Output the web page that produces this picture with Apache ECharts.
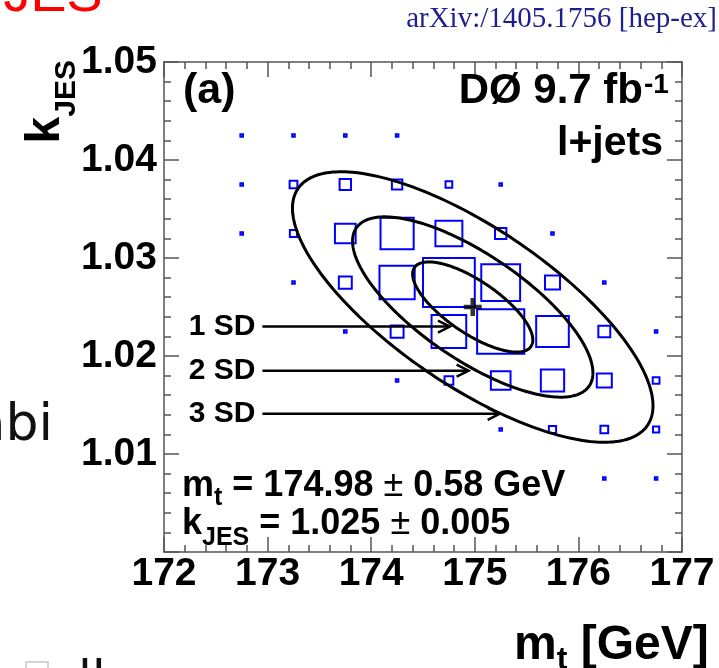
<!DOCTYPE html>
<html>
<head>
<meta charset="utf-8">
<script src="https://cdn.jsdelivr.net/npm/echarts@6/dist/echarts.min.js"></script>
<style>
html, body { margin: 0; padding: 0; background: #fff; }
#chart { width: 719px; height: 668px; }
</style>
</head>
<body>
<div id="chart"></div>
<script>
// Bin centres of the two-dimensional likelihood histogram
const massBins = [172.75, 173.25, 173.75, 174.25, 174.75, 175.25, 175.75, 176.25, 176.75];
const kBins = [1.0425, 1.0375, 1.0325, 1.0275, 1.0225, 1.0175, 1.0125, 1.0075];
const binWidth = [0.5, 0.005];
// Relative bin contents: one row per kJES bin (top to bottom), one column per mass bin
const binContent = [
  [5, 5, 5, 5, 0, 0, 0, 0, 0],
  [5, 15, 22, 20, 13, 5, 0, 0, 0],
  [5, 14, 40, 64, 52, 22, 5, 0, 0],
  [0, 5, 25, 68, 100, 75, 29, 5, 0],
  [0, 0, 5, 25, 67, 91, 63, 23, 5],
  [0, 0, 0, 5, 17, 38, 45, 29, 13],
  [0, 0, 0, 0, 0, 5, 14, 15, 12],
  [0, 0, 0, 0, 0, 0, 0, 5, 5]
];

// Fit result
const fitMass = [174.98];
const fitMassErr = [0.58];
const fitK = [1.025];
const fitKErr = [0.005];
const contourSigmaK = [0.0046];   // unrounded kJES width used for the contours
const fitCorrelation = [-0.73];
const contourLevels = [1, 2, 3];
const contourLabels = ['1 SD', '2 SD', '3 SD'];
// Arrows pointing at the contours
const arrowStartMass = [172.95, 172.95, 172.95];
const arrowEndMass = [174.76, 174.94, 175.24];
const arrowK = [1.0230, 1.0185, 1.0141];

// Axes
const xTickLabels = [172, 173, 174, 175, 176, 177];
const yTickLabels = [1.01, 1.02, 1.03, 1.04, 1.05];
const yRange = [1.00, 1.05];

// ---------------------------------------------------------------
const boxData = [];
kBins.forEach((k, r) => massBins.forEach((m, c) => {
  if (binContent[r][c] > 0) boxData.push([m, k, binContent[r][c]]);
}));
const maxContent = Math.max(...binContent.flat());

const FONT = '"Liberation Sans", Arial, sans-serif';
const measureCtx = document.createElement('canvas').getContext('2d');
function measure(str, font) { measureCtx.font = font; return measureCtx.measureText(str).width; }
function fontOf(size, weight, family) { return `${weight || 'bold'} ${size}px ${family || FONT}`; }

// text element placed by its alphabetic baseline
function txt(str, x, baseline, size, o = {}) {
  return {
    type: 'text', x: x, y: baseline - 0.3465 * size, z: 20,
    style: {
      text: str, font: fontOf(size, o.weight, o.family), fill: o.color || '#000',
      align: o.align || 'left', verticalAlign: 'middle'
    }
  };
}
// a run of text pieces with sub/superscripts, laid out left to right
function run(x, baseline, parts) {
  const out = [];
  let cx = x;
  parts.forEach(([s, size, weight, shift]) => {
    out.push(txt(s, cx, baseline + (shift || 0), size, { weight: weight }));
    cx += measure(s, fontOf(size, weight));
  });
  return out;
}

const tickStyle = { color: '#555', width: 1.5 };
const frameLine = { show: true, lineStyle: { color: '#555', width: 1.5 } };
const labelStyle = { fontFamily: FONT, fontWeight: 'bold', fontSize: 39, color: '#000' };

function xAxisDef(pos, showLabels) {
  return {
    type: 'value', position: pos, min: xTickLabels[0], max: xTickLabels[xTickLabels.length - 1], interval: 1,
    axisLine: frameLine,
    axisTick: { show: true, inside: true, length: 15, lineStyle: tickStyle },
    minorTick: { show: true, splitNumber: 5, length: 7, lineStyle: tickStyle },
    splitLine: { show: false }, minorSplitLine: { show: false },
    axisLabel: Object.assign({
      show: showLabels, margin: 3, showMinLabel: true, showMaxLabel: true, hideOverlap: false,
      formatter: v => xTickLabels.some(t => Math.abs(t - v) < 1e-6) ? String(Math.round(v)) : ''
    }, labelStyle)
  };
}
function yAxisDef(pos, showLabels) {
  return {
    type: 'value', position: pos, min: yRange[0], max: yRange[1], interval: 0.01,
    axisLine: frameLine,
    axisTick: { show: true, inside: true, length: 15, lineStyle: tickStyle },
    minorTick: { show: true, splitNumber: 5, length: 7, lineStyle: tickStyle },
    splitLine: { show: false }, minorSplitLine: { show: false },
    axisLabel: Object.assign({
      show: showLabels, margin: 7, showMinLabel: true, showMaxLabel: true, hideOverlap: false,
      formatter: v => yTickLabels.some(t => Math.abs(t - v) < 1e-6) ? v.toFixed(2) : ''
    }, labelStyle)
  };
}

// Annotations
const graphics = [];
// slide fragments around the figure
graphics.push(txt('JES', 102.5, 15, 54, { weight: 'normal', color: '#ff0000', align: 'right' }));
graphics.push(txt('abi', 53, 445, 52, { weight: 'normal', family: '"DejaVu Sans"', color: '#111', align: 'right' }));
graphics.push({ type: 'rect', shape: { x: 26, y: 662, width: 22, height: 22 }, style: { fill: 'none', stroke: '#c8c8c8', lineWidth: 1.5 } });
graphics.push(txt('lk', 78, 700, 50, { weight: 'normal', family: '"DejaVu Sans"', color: '#111' }));
graphics.push(txt('arXiv:/1405.1756 [hep-ex]', 717, 29, 29, { weight: 'normal', family: '"Liberation Serif", serif', color: '#1e1e8c', align: 'right' }));

// panel labels
graphics.push(txt('(a)', 183, 106, 43));
graphics.push(txt('DØ 9.7 fb', 643, 106, 42, { align: 'right' }));
graphics.push(txt('-1', 644, 95, 28));
graphics.push(txt('l+jets', 663, 158, 41, { align: 'right' }));

// fit result
graphics.push(...run(182, 499, [
  ['m', 36, 'bold', 0], ['t', 25, 'bold', 8],
  [' = ' + fitMass[0].toFixed(2) + ' ', 36, 'bold', 0], ['±', 36, 'normal', 0],
  [' ' + fitMassErr[0].toFixed(2) + ' GeV', 36, 'bold', 0]
]));
graphics.push(...run(182, 537, [
  ['k', 36, 'bold', 0], ['JES', 25, 'bold', 10],
  [' = ' + fitK[0].toFixed(3) + ' ', 36, 'bold', 0], ['±', 36, 'normal', 0],
  [' ' + fitKErr[0].toFixed(3), 36, 'bold', 0]
]));

// axis titles
graphics.push(...run(514, 662, [['m', 48, 'bold', 0], ['t', 32, 'bold', 9], [' [GeV]', 48, 'bold', 0]]));
const subW = measure('JES', fontOf(30, 'bold'));
graphics.push({
  type: 'group', x: 62, y: 60, rotation: Math.PI / 2, z: 20,
  children: [
    txt('JES', 0, 15, 30, { align: 'right' }),
    txt('k', -subW, 0, 48, { align: 'right' })
  ]
});

const chart = echarts.init(document.getElementById('chart'), null, { renderer: 'canvas' });
chart.setOption({
  animation: false,
  backgroundColor: '#fff',
  grid: { left: 164, right: 37, top: 62, bottom: 116 },
  xAxis: [xAxisDef('bottom', true), xAxisDef('top', false)],
  yAxis: [yAxisDef('left', true), yAxisDef('right', false)],
  graphic: graphics,
  series: [
    {
      // histogram boxes, size proportional to bin content
      type: 'custom', xAxisIndex: 0, yAxisIndex: 0, z: 2,
      data: boxData,
      renderItem: (params, api) => {
        const c = api.coord([api.value(0), api.value(1)]);
        const s = api.size(binWidth);
        const f = api.value(2) / maxContent;
        const w = s[0] * f, h = s[1] * f;
        return {
          type: 'rect',
          shape: { x: c[0] - w / 2, y: c[1] - h / 2, width: w, height: h },
          style: { fill: 'none', stroke: '#0000ff', lineWidth: 2 }
        };
      }
    },
    {
      // n-SD contours of the fit
      type: 'custom', xAxisIndex: 0, yAxisIndex: 0, z: 3,
      data: contourLevels.map(n => [n]),
      renderItem: (params, api) => {
        const n = api.value(0);
        const rho = fitCorrelation[0];
        const pts = [];
        for (let i = 0; i <= 240; i++) {
          const t = 2 * Math.PI * i / 240;
          const dm = n * fitMassErr[0] * Math.cos(t);
          const dk = n * contourSigmaK[0] * (rho * Math.cos(t) + Math.sqrt(1 - rho * rho) * Math.sin(t));
          pts.push(api.coord([fitMass[0] + dm, fitK[0] + dk]));
        }
        return {
          type: 'polygon', shape: { points: pts },
          style: { fill: 'none', stroke: '#000', lineWidth: 3 }
        };
      }
    },
    {
      // labelled arrows
      type: 'custom', xAxisIndex: 0, yAxisIndex: 0, z: 4,
      data: arrowK.map((k, i) => [arrowStartMass[i], arrowEndMass[i], k]),
      renderItem: (params, api) => {
        const p0 = api.coord([api.value(0), api.value(2)]);
        const p1 = api.coord([api.value(1), api.value(2)]);
        return {
          type: 'group',
          children: [
            { type: 'line', shape: { x1: p0[0], y1: p0[1], x2: p1[0], y2: p1[1] }, style: { stroke: '#000', lineWidth: 2.5 } },
            { type: 'polyline', shape: { points: [[p1[0] - 12, p1[1] - 6], [p1[0], p1[1]], [p1[0] - 12, p1[1] + 6]] }, style: { stroke: '#000', lineWidth: 2.5, fill: 'none' } },
            { type: 'text', x: p0[0] - 7, y: p0[1], style: { text: contourLabels[params.dataIndex], font: fontOf(30, 'bold'), fill: '#000', align: 'right', verticalAlign: 'middle' } }
          ]
        };
      }
    },
    {
      // best-fit point
      type: 'scatter', xAxisIndex: 0, yAxisIndex: 0, z: 5,
      symbol: 'path://M3,0H5V3H8V5H5V8H3V5H0V3H3Z',
      symbolSize: 18,
      itemStyle: { color: '#000' },
      data: [[fitMass[0], fitK[0]]]
    }
  ]
});
</script>
</body>
</html>
